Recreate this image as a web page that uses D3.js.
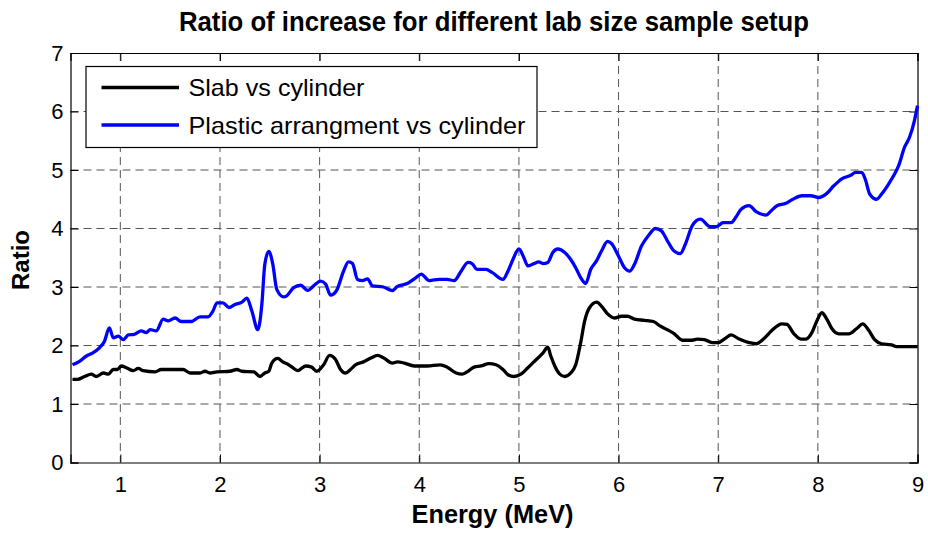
<!DOCTYPE html>
<html>
<head>
<meta charset="utf-8">
<script src="https://cdn.jsdelivr.net/npm/d3@7"></script>
<style>
  html, body { margin: 0; padding: 0; background: #fff; }
  svg { display: block; font-family: Arial, "Liberation Sans", sans-serif; }
</style>
</head>
<body>
<svg id="chart" width="928" height="533"></svg>
<script>
// Energy (MeV) and ratio samples, plastic arrangement vs cylinder
const plasticEnergy = [0.52,0.59,0.66,0.72,0.79,0.84,0.89,0.93,0.98,1.03,1.08,1.14,1.21,1.26,1.30,1.36,1.43,1.48,1.55,1.61,1.71,1.80,1.88,1.93,1.97,2.03,2.09,2.15,2.22,2.27,2.32,2.38,2.42,2.45,2.49,2.53,2.57,2.64,2.67,2.74,2.81,2.88,2.94,3.01,3.06,3.11,3.17,3.24,3.29,3.33,3.38,3.43,3.48,3.53,3.64,3.73,3.78,3.88,3.96,4.02,4.10,4.20,4.28,4.35,4.42,4.49,4.53,4.58,4.67,4.73,4.84,4.89,4.94,5.00,5.05,5.09,5.15,5.20,5.24,5.29,5.34,5.39,5.46,5.52,5.57,5.62,5.67,5.72,5.78,5.83,5.89,5.93,5.99,6.06,6.11,6.16,6.23,6.30,6.37,6.43,6.49,6.56,6.62,6.67,6.74,6.82,6.92,6.98,7.05,7.13,7.18,7.23,7.31,7.38,7.48,7.53,7.59,7.68,7.74,7.84,7.93,8.01,8.09,8.16,8.24,8.33,8.38,8.44,8.48,8.52,8.59,8.64,8.71,8.77,8.81,8.87,8.92,8.97,9.00];
const plasticRatio = [1.67,1.73,1.82,1.87,1.96,2.07,2.30,2.13,2.16,2.10,2.18,2.19,2.25,2.22,2.27,2.25,2.45,2.42,2.47,2.41,2.41,2.49,2.49,2.59,2.73,2.73,2.65,2.70,2.74,2.81,2.59,2.27,2.70,3.39,3.61,3.39,2.96,2.83,2.85,2.99,3.03,2.94,3.02,3.10,3.05,2.86,2.94,3.27,3.43,3.40,3.13,3.11,3.14,3.02,3.00,2.94,3.01,3.06,3.15,3.22,3.11,3.13,3.13,3.11,3.27,3.42,3.40,3.30,3.30,3.25,3.13,3.27,3.47,3.65,3.50,3.36,3.40,3.43,3.40,3.42,3.59,3.65,3.59,3.47,3.33,3.16,3.06,3.30,3.45,3.62,3.78,3.74,3.56,3.33,3.27,3.39,3.70,3.88,4.00,3.96,3.79,3.61,3.57,3.73,4.05,4.16,4.03,4.03,4.10,4.10,4.20,4.33,4.39,4.29,4.23,4.30,4.39,4.43,4.49,4.56,4.56,4.53,4.60,4.73,4.85,4.91,4.96,4.96,4.82,4.59,4.50,4.59,4.76,4.93,5.07,5.39,5.56,5.85,6.10];

// Energy (MeV) and ratio samples, slab vs cylinder
const slabEnergy = [0.52,0.57,0.64,0.71,0.76,0.83,0.88,0.93,0.97,1.01,1.06,1.13,1.18,1.23,1.35,1.41,1.50,1.63,1.70,1.80,1.85,1.90,1.97,2.10,2.17,2.22,2.34,2.40,2.45,2.49,2.52,2.58,2.63,2.69,2.74,2.78,2.86,2.92,2.97,3.04,3.10,3.16,3.21,3.26,3.31,3.36,3.44,3.52,3.58,3.64,3.73,3.78,3.85,3.95,4.08,4.21,4.28,4.37,4.43,4.48,4.55,4.62,4.70,4.77,4.84,4.89,4.95,5.02,5.09,5.15,5.24,5.29,5.32,5.36,5.41,5.46,5.52,5.57,5.62,5.66,5.71,5.78,5.83,5.89,5.96,6.03,6.09,6.16,6.26,6.35,6.42,6.49,6.56,6.64,6.74,6.79,6.86,6.94,7.00,7.07,7.13,7.21,7.31,7.38,7.46,7.54,7.64,7.69,7.76,7.83,7.88,7.94,7.99,8.04,8.09,8.14,8.21,8.31,8.39,8.45,8.51,8.57,8.64,8.74,8.79,9.00];
const slabRatio = [1.42,1.42,1.47,1.51,1.47,1.53,1.51,1.59,1.59,1.65,1.62,1.57,1.61,1.57,1.55,1.59,1.59,1.59,1.53,1.53,1.56,1.53,1.55,1.56,1.59,1.56,1.55,1.47,1.53,1.56,1.70,1.78,1.72,1.67,1.61,1.57,1.65,1.63,1.56,1.67,1.83,1.76,1.59,1.53,1.59,1.67,1.72,1.79,1.83,1.79,1.70,1.72,1.70,1.65,1.65,1.67,1.63,1.53,1.51,1.55,1.63,1.65,1.69,1.67,1.59,1.50,1.47,1.51,1.62,1.72,1.87,1.97,1.82,1.65,1.51,1.47,1.53,1.67,2.05,2.42,2.65,2.74,2.67,2.54,2.47,2.50,2.50,2.45,2.43,2.41,2.33,2.27,2.20,2.09,2.09,2.11,2.10,2.05,2.05,2.12,2.18,2.11,2.05,2.03,2.12,2.26,2.37,2.36,2.20,2.11,2.11,2.22,2.42,2.56,2.45,2.29,2.20,2.20,2.29,2.37,2.26,2.10,2.03,2.01,1.98,1.98];

const xTicks = [1, 2, 3, 4, 5, 6, 7, 8, 9];
const yTicks = [0, 1, 2, 3, 4, 5, 6, 7];
const seriesNames = ["Slab vs cylinder", "Plastic arrangment vs cylinder"];
const seriesColors = ["#000000", "#0000ff"];

const svg = d3.select("#chart");
const plotLeft = 70.5, plotRight = 917.5, plotTop = 53, plotBottom = 462.5;

const x = d3.scaleLinear().domain([0.5, 9]).range([plotLeft, plotRight]);
const y = d3.scaleLinear().domain([0, 7]).range([plotBottom, plotTop]);

// dashed grid
const grid = svg.append("g").attr("stroke", "#555").attr("stroke-width", 1)
  .attr("stroke-dasharray", "8,5").attr("fill", "none");
grid.selectAll("line.gx").data(xTicks.filter(d => d < 9)).join("line").attr("class", "gx")
  .attr("x1", d => x(d)).attr("x2", d => x(d)).attr("y1", plotTop).attr("y2", plotBottom);
grid.selectAll("line.gy").data(yTicks.filter(d => d > 0 && d < 7)).join("line").attr("class", "gy")
  .attr("x1", plotLeft).attr("x2", plotRight).attr("y1", d => y(d)).attr("y2", d => y(d));

// axes with inward ticks on all four sides
const fontSize = 22;
const gx = svg.append("g").attr("transform", `translate(0,${plotBottom})`)
  .call(d3.axisBottom(x).tickValues(xTicks).tickSize(-8).tickPadding(13.5).tickFormat(d3.format("d")));
const gy = svg.append("g").attr("transform", `translate(${plotLeft},0)`)
  .call(d3.axisLeft(y).tickValues(yTicks).tickSize(-8).tickPadding(7).tickFormat(d3.format("d")));
const gt = svg.append("g").attr("transform", `translate(0,${plotTop})`)
  .call(d3.axisTop(x).tickValues(xTicks).tickSize(-8).tickFormat(""));
const gr = svg.append("g").attr("transform", `translate(${plotRight},0)`)
  .call(d3.axisRight(y).tickValues(yTicks).tickSize(-8).tickFormat(""));
[gx, gy, gt, gr].forEach(g => {
  g.selectAll("path.domain").attr("stroke", "#000").attr("stroke-width", 1.2);
  g.selectAll(".tick line").attr("stroke", "#000").attr("stroke-width", 1);
  g.selectAll(".tick text").attr("fill", "#000").attr("font-size", fontSize)
    .attr("font-family", "Arial, 'Liberation Sans', sans-serif");
});

// series lines
const lineGen = d3.line().x(d => x(d[0])).y(d => y(d[1])).curve(d3.curveMonotoneX);
const slabPts = slabEnergy.map((e, i) => [e, slabRatio[i]]);
const plasticPts = plasticEnergy.map((e, i) => [e, plasticRatio[i]]);
svg.append("path").datum(slabPts).attr("d", lineGen).attr("fill", "none")
  .attr("stroke", seriesColors[0]).attr("stroke-width", 3.3).attr("stroke-linejoin", "round");
svg.append("path").datum(plasticPts).attr("d", lineGen).attr("fill", "none")
  .attr("stroke", seriesColors[1]).attr("stroke-width", 3.3).attr("stroke-linejoin", "round");

// legend
const legend = svg.append("g");
legend.append("rect").attr("x", 86).attr("y", 66.5).attr("width", 451).attr("height", 81)
  .attr("fill", "#fff").attr("stroke", "#000").attr("stroke-width", 1.2);
const rowY = [87.5, 125];
const textLens = [176, 337];
seriesNames.forEach((name, i) => {
  legend.append("line").attr("x1", 101.5).attr("x2", 179).attr("y1", rowY[i]).attr("y2", rowY[i])
    .attr("stroke", seriesColors[i]).attr("stroke-width", 3.3);
  legend.append("text").attr("x", 188.5).attr("y", rowY[i]).attr("dy", "0.36em")
    .attr("font-size", 24).attr("textLength", textLens[i]).attr("lengthAdjust", "spacingAndGlyphs")
    .text(name);
});

// titles
svg.append("text").attr("x", (plotLeft + plotRight) / 2).attr("y", 31).attr("text-anchor", "middle")
  .attr("font-size", 27).attr("font-weight", "bold")
  .attr("textLength", 630).attr("lengthAdjust", "spacingAndGlyphs")
  .text("Ratio of increase for different lab size sample setup");
svg.append("text").attr("x", 492.5).attr("y", 523).attr("text-anchor", "middle")
  .attr("font-size", 25).attr("font-weight", "bold")
  .attr("textLength", 162).attr("lengthAdjust", "spacingAndGlyphs")
  .text("Energy (MeV)");
svg.append("text").attr("transform", "translate(29,260) rotate(-90)").attr("text-anchor", "middle")
  .attr("font-size", 24).attr("font-weight", "bold")
  .attr("textLength", 60).attr("lengthAdjust", "spacingAndGlyphs")
  .text("Ratio");
</script>
</body>
</html>
